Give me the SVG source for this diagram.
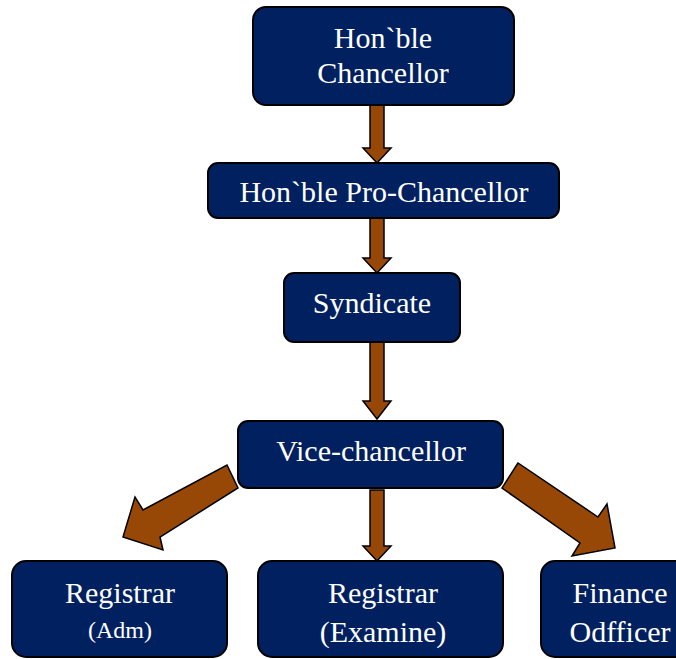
<svg xmlns="http://www.w3.org/2000/svg" width="676" height="659" viewBox="0 0 676 659">
<style>
.box{fill:#002060;stroke:#000;stroke-width:2}
.arr{fill:#974806;stroke:#000;stroke-width:1.5;stroke-linejoin:miter}
text{font-family:"Liberation Serif","Times New Roman",serif;fill:#fff;text-anchor:middle;font-size:30px}
.sm{font-size:24px}
</style>
<rect width="676" height="659" fill="#fff"/>
<g id="connectors">
<polygon class="arr" points="370,105 384,105 384,148 391,148 377,163 363,148 370,148"/>
<polygon class="arr" points="370,218 384,218 384,258 391,258 377,273 363,258 370,258"/>
<polygon class="arr" points="370,342 384,342 384,401 391,401 377,419 363,401 370,401"/>
<polygon class="arr" points="370,490 384,490 384,546 391,546 377,561 363,546 370,546"/>
<polygon class="arr" points="227,465 238,488 160,537 163,550 123,537 135,497 143,510"/>
<polygon class="arr" points="518,463 502,488 580,543 572,556 615,548 607,504 598,517"/>
</g>
<g id="n-chancellor">
<rect class="box" x="253" y="7" width="261" height="98" rx="13"/>
<text x="383" y="48">Hon`ble</text>
<text x="383" y="83">Chancellor</text>
</g>
<g id="n-prochancellor">
<rect class="box" x="208" y="163" width="351" height="55" rx="10"/>
<text x="384" y="202">Hon`ble Pro-Chancellor</text>
</g>
<g id="n-syndicate">
<rect class="box" x="284" y="273" width="176" height="69" rx="10"/>
<text x="372" y="313">Syndicate</text>
</g>
<g id="n-vc">
<rect class="box" x="238" y="421" width="265" height="67" rx="10"/>
<text x="371" y="461">Vice-chancellor</text>
</g>
<g id="n-reg-adm">
<rect class="box" x="12" y="561" width="215" height="96" rx="14"/>
<text x="120" y="603">Registrar</text>
<text class="sm" x="120" y="638">(Adm)</text>
</g>
<g id="n-reg-exam">
<rect class="box" x="258" y="561" width="245" height="96" rx="14"/>
<text x="383" y="603">Registrar</text>
<text x="383" y="642">(Examine)</text>
</g>
<g id="n-finance">
<rect class="box" x="541" y="561" width="170" height="96" rx="14"/>
<text x="620" y="603">Finance</text>
<text x="620" y="642">Odfficer</text>
</g>
</svg>
